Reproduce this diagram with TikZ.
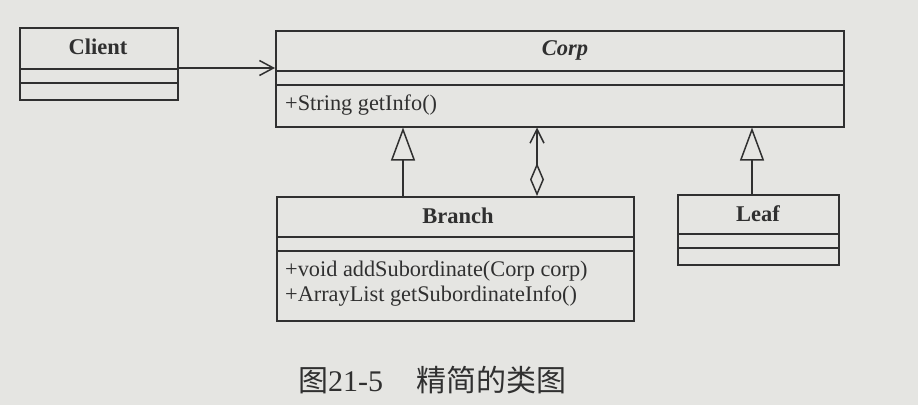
\documentclass[tikz,border=0pt]{standalone}
\usepackage{fontspec}
\setmainfont{Liberation Serif}
\newfontfamily\cjk{Noto Sans CJK SC}
\usetikzlibrary{arrows.meta}
\definecolor{paper}{RGB}{229,229,226}
\definecolor{ink}{RGB}{48,48,48}
\begin{document}
\begin{tikzpicture}[x=1pt,y=-1pt,
  classbox/.style={draw=ink, line width=1.5pt, rectangle, inner sep=0pt, anchor=north west},
  rule/.style={draw=ink, line width=1.5pt},
  title/.style={font=\fontsize{22.5}{24}\selectfont\bfseries, text=ink},
  member/.style={font=\fontsize{22.3}{24}\selectfont, text=ink, anchor=west, inner sep=0pt},
  assoc/.style={draw=ink, line width=1.5pt, -{Straight Barb[length=14pt,width=15pt]}},
  generalize/.style={draw=ink, line width=1.5pt, -{Triangle[open,length=33pt,width=24pt,fill=paper]}},
  aggregate/.style={draw=ink, line width=1.5pt,
    {Diamond[open,length=33pt,width=14pt,fill=paper]}-{Straight Barb[length=14pt,width=14pt]}}]
% paper
\fill[paper] (0,0) rectangle (918,405);
\useasboundingbox (0,0) rectangle (918,405);

% Client
\node[classbox, minimum width=158pt, minimum height=72pt] (client) at (19,27) {};
\draw[rule] (client.west |- 0,69) -- (client.east |- 0,69);
\draw[rule] (client.west |- 0,83) -- (client.east |- 0,83);
\node[title] (clientname) at (98,47) {Client};

% Corp
\node[classbox, minimum width=568pt, minimum height=96pt] (corp) at (275,30) {};
\draw[rule] (corp.west |- 0,71) -- (corp.east |- 0,71);
\draw[rule] (corp.west |- 0,85) -- (corp.east |- 0,85);
\node[title, font=\fontsize{22.5}{24}\selectfont\bfseries\itshape] (corpname) at (565,50) {Corp};
\node[member] (getinfo) at (285,105) {+String getInfo()};

% Branch
\node[classbox, minimum width=357pt, minimum height=124pt] (branch) at (276,196) {};
\draw[rule] (branch.west |- 0,237) -- (branch.east |- 0,237);
\draw[rule] (branch.west |- 0,251) -- (branch.east |- 0,251);
\node[title] (branchname) at (458,216) {Branch};
\node[member] (addsub) at (285,271) {+void addSubordinate(Corp corp)};
\node[member] (getsub) at (285,296) {+ArrayList getSubordinateInfo()};

% Leaf
\node[classbox, minimum width=161pt, minimum height=70pt] (leaf) at (677,194) {};
\draw[rule] (leaf.west |- 0,234) -- (leaf.east |- 0,234);
\draw[rule] (leaf.west |- 0,248) -- (leaf.east |- 0,248);
\node[title] (leafname) at (758,214) {Leaf};

% relations
\draw[assoc] (client.east |- 0,68) -- (corp.west |- 0,68);
\draw[generalize] (branch.north -| 403,0) -- (corp.south -| 403,0);
\draw[aggregate] (branch.north -| 537,0) -- (corp.south -| 537,0);
\draw[generalize] (leaf.north -| 752,0) -- (corp.south -| 752,0);

% caption
\node[anchor=west, inner sep=0pt, text=ink, font=\fontsize{30}{32}\selectfont] (caption) at (298,380)
  {{\cjk 图}21-5\hspace{1.1em}{\cjk 精简的类图}};
\end{tikzpicture}
\end{document}
